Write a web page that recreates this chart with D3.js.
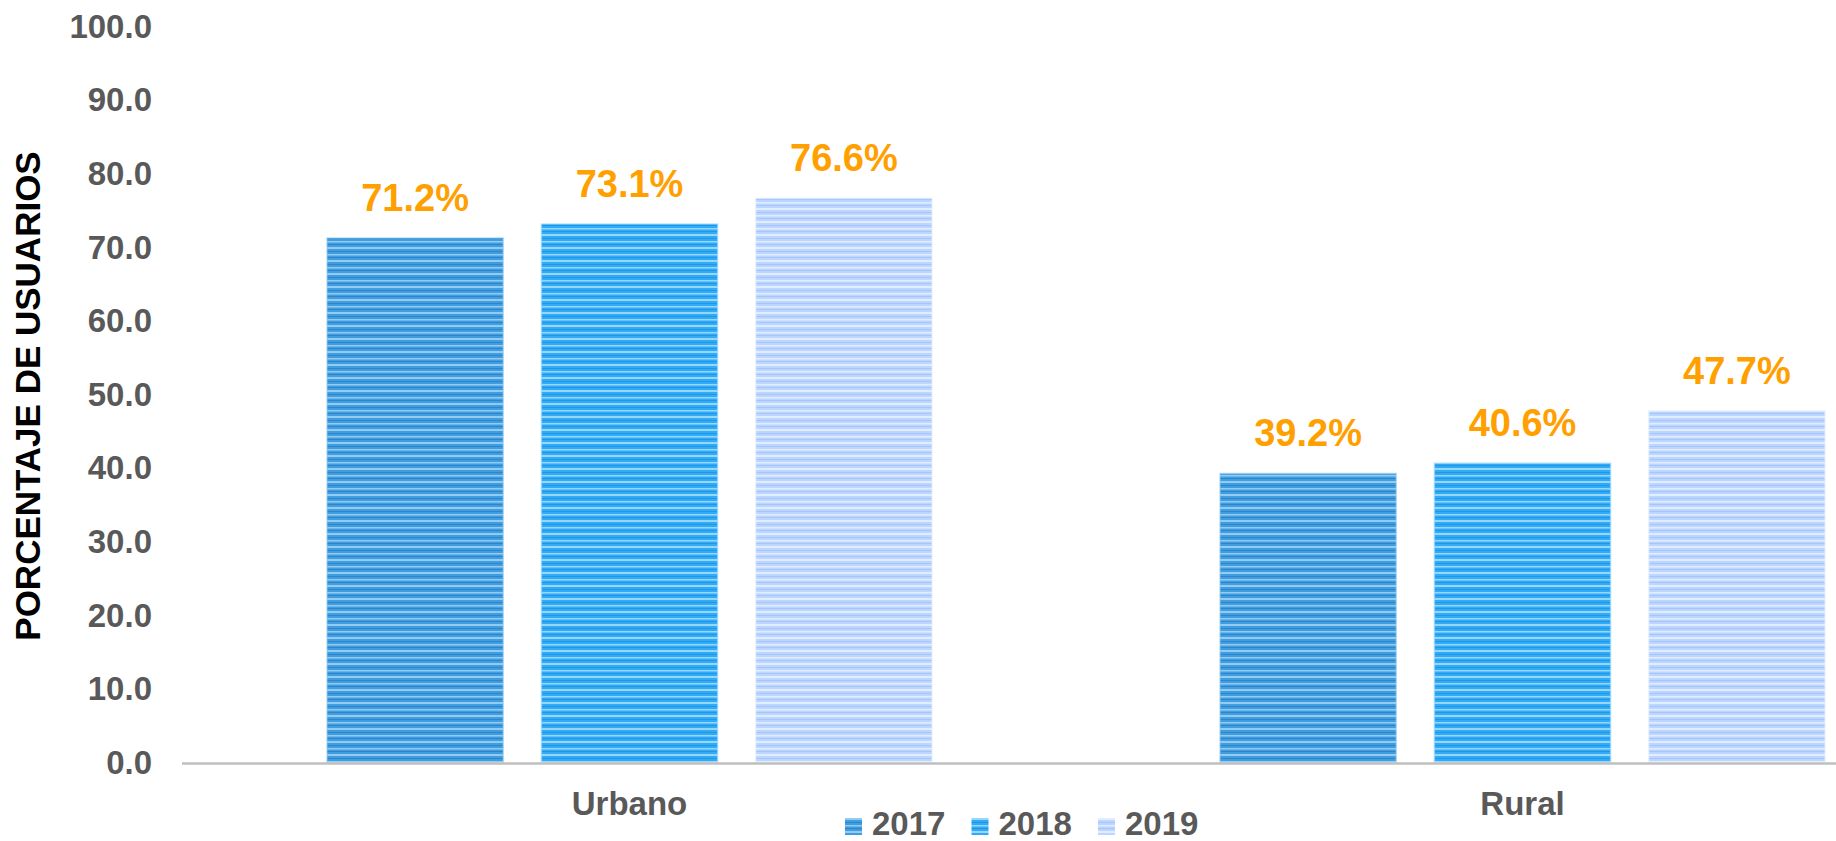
<!DOCTYPE html>
<html>
<head>
<meta charset="utf-8">
<script src="https://cdn.jsdelivr.net/npm/d3@7"></script>
<style>
  html, body { margin: 0; padding: 0; background: #fff; }
  svg { display: block; font-family: "Liberation Sans", Arial, sans-serif; font-weight: bold; }
</style>
</head>
<body>
<div id="chart"></div>
<script>
const categories = ["Urbano", "Rural"];
const years = ["2017", "2018", "2019"];
const values2017 = [71.2, 39.2];
const values2018 = [73.1, 40.6];
const values2019 = [76.6, 47.7];
const yTicks = [0, 10, 20, 30, 40, 50, 60, 70, 80, 90, 100];

const W = 1836, H = 841;
const seriesValues = { "2017": values2017, "2018": values2018, "2019": values2019 };

// stripe palettes: base, light, dark
const stripes = {
  "2017": ["#3f9de0", "#93cbf1", "#2b86cd"],
  "2018": ["#31abf6", "#97d6ff", "#1f97e9"],
  "2019": ["#bcd6ff", "#e2eeff", "#a6c6fa"]
};

const svg = d3.select("#chart").append("svg")
  .attr("width", W)
  .attr("height", H)
  .attr("viewBox", `0 0 ${W} ${H}`);

const defs = svg.append("defs");
years.forEach(yr => {
  const [base, light, dark] = stripes[yr];
  const p = defs.append("pattern")
    .attr("id", "stripe" + yr)
    .attr("patternUnits", "userSpaceOnUse")
    .attr("width", 10).attr("height", 13);
  p.append("rect").attr("width", 10).attr("height", 13).attr("fill", base);
  p.append("rect").attr("y", 0).attr("width", 10).attr("height", 2).attr("fill", light);
  p.append("rect").attr("y", 4).attr("width", 10).attr("height", 1).attr("fill", dark);
  p.append("rect").attr("y", 7).attr("width", 10).attr("height", 1.5).attr("fill", light);
  p.append("rect").attr("y", 10).attr("width", 10).attr("height", 1).attr("fill", dark);
});

const y = d3.scaleLinear().domain([0, 100]).range([762, 26]);

// the original plot area runs past the right edge of the picture
const x0 = d3.scaleBand().domain(categories).range([183, 1969]);
const x1 = d3.scaleBand().domain(years)
  .range([144, x0.bandwidth() - 144])
  .paddingInner(0.178);

// y tick labels
svg.append("g").selectAll("text")
  .data(yTicks)
  .join("text")
  .attr("x", 152)
  .attr("y", d => y(d))
  .attr("dy", "0.36em")
  .attr("text-anchor", "end")
  .attr("fill", "#595959")
  .attr("font-size", 33)
  .text(d => d3.format(".1f")(d));

// y title
svg.append("text")
  .attr("transform", `translate(40,396) rotate(-90)`)
  .attr("text-anchor", "middle")
  .attr("fill", "#000")
  .attr("font-size", 35)
  .text("PORCENTAJE DE USUARIOS");

// bars
const groups = svg.append("g").selectAll("g")
  .data(categories)
  .join("g")
  .attr("transform", d => `translate(${x0(d)},0)`);

const barData = (c, i) => years.map(yr => ({ cat: c, year: yr, value: seriesValues[yr][i] }));

groups.selectAll("rect")
  .data((c, i) => barData(c, i))
  .join("rect")
  .attr("x", d => x1(d.year))
  .attr("y", d => y(d.value))
  .attr("width", x1.bandwidth())
  .attr("height", d => y(0) - y(d.value))
  .attr("fill", d => `url(#stripe${d.year})`)
  .attr("stroke", d => stripes[d.year][1])
  .attr("stroke-opacity", 0.6)
  .attr("stroke-width", 1.5);

groups.selectAll("text.val")
  .data((c, i) => barData(c, i))
  .join("text")
  .attr("class", "val")
  .attr("x", d => x1(d.year) + x1.bandwidth() / 2)
  .attr("y", d => y(d.value) - 27)
  .attr("text-anchor", "middle")
  .attr("fill", "#ffa000")
  .attr("font-size", 38)
  .text(d => d.value.toFixed(1) + "%");

// baseline
svg.append("line")
  .attr("x1", 182).attr("x2", W)
  .attr("y1", 763.5).attr("y2", 763.5)
  .attr("stroke", "#bfbfbf")
  .attr("stroke-width", 2.5);

// category labels
svg.append("g").selectAll("text")
  .data(categories)
  .join("text")
  .attr("x", d => x0(d) + x0.bandwidth() / 2)
  .attr("y", 815)
  .attr("text-anchor", "middle")
  .attr("fill", "#595959")
  .attr("font-size", 33)
  .text(d => d);

// legend
const legend = svg.append("g").attr("transform", "translate(845,818)");
const items = legend.selectAll("g")
  .data(years)
  .join("g")
  .attr("transform", (d, i) => `translate(${i * 126.5},0)`);
items.append("rect")
  .attr("width", 17).attr("height", 17)
  .attr("fill", d => `url(#stripe${d})`);
items.append("text")
  .attr("x", 27)
  .attr("y", 17)
  .attr("fill", "#595959")
  .attr("font-size", 33)
  .text(d => d);
</script>
</body>
</html>
